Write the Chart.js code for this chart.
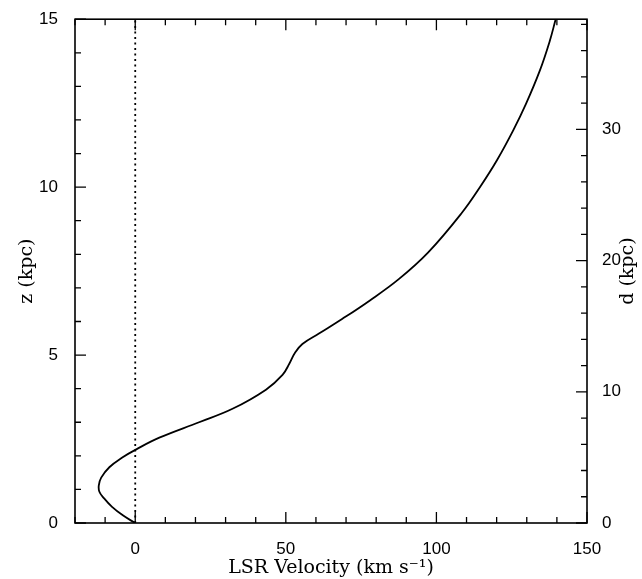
<!DOCTYPE html>
<html>
<head>
<meta charset="utf-8">
<script src="https://cdn.jsdelivr.net/npm/chart.js@4"></script>
<style>
  body { margin: 0; background: #fff; }
  canvas { display: block; }
</style>
</head>
<body>
<canvas id="chart" width="642" height="579"></canvas>
<script>
// LSR velocity (km/s) vs height z (kpc)
const velocity = [0, -4, -7.7, -10.5, -11.9, -12.1, -11.3, -8.6, -4.3, 0.5, 8, 21.2, 32.3, 43.4, 48.9, 51.2, 53, 55.5, 61, 68.8, 77.8, 87.5, 97.2, 108.4, 114.6, 120.1, 125.5, 129.7, 134.3, 137.6, 139.6];
const zHeight = [0, 0.22, 0.48, 0.75, 0.93, 1.12, 1.35, 1.66, 1.95, 2.2, 2.54, 3.0, 3.4, 3.97, 4.41, 4.75, 5.06, 5.33, 5.64, 6.08, 6.62, 7.26, 8.05, 9.23, 10.02, 10.8, 11.69, 12.47, 13.46, 14.34, 15];

// axis ranges
const vRange = [-20, 150];
const zRange = [0, 15];
const dMax = 38.4; // right axis, distance along line of sight at z = 15

const curve = velocity.map(function (v, i) {
  return { x: v, y: zHeight[i] };
});

const tickFont = { family: "Liberation Sans", size: 17 };
const titleFont = { family: "DejaVu Serif", size: 19 };

// inward ticks, frame and right-hand title
const framePlugin = {
  id: "frame",
  afterDraw: function (chart) {
    const ctx = chart.ctx;
    const a = chart.chartArea;
    const x = chart.scales.x;
    const y = chart.scales.y;
    const y2 = chart.scales.y2;
    ctx.save();
    ctx.strokeStyle = "#000";
    ctx.lineWidth = 1.6;
    ctx.strokeRect(a.left, a.top, a.right - a.left, a.bottom - a.top);

    ctx.lineWidth = 1.3;
    ctx.beginPath();
    for (let v = -20; v <= 150; v += 10) {
      const px = x.getPixelForValue(v);
      const len = v % 50 === 0 ? 11 : 6;
      ctx.moveTo(px, a.bottom);
      ctx.lineTo(px, a.bottom - len);
      ctx.moveTo(px, a.top);
      ctx.lineTo(px, a.top + len);
    }
    for (let z = 0; z <= 15; z += 1) {
      const py = y.getPixelForValue(z);
      const len = z % 5 === 0 ? 11 : 6;
      ctx.moveTo(a.left, py);
      ctx.lineTo(a.left + len, py);
    }
    for (let d = 0; d <= dMax; d += 2) {
      const py = y2.getPixelForValue(d);
      const len = d % 10 === 0 ? 11 : 6;
      ctx.moveTo(a.right, py);
      ctx.lineTo(a.right - len, py);
    }
    ctx.stroke();

    ctx.fillStyle = "#000";
    ctx.font = "19px 'DejaVu Serif'";
    ctx.textAlign = "center";
    ctx.textBaseline = "middle";
    ctx.translate(628, (a.top + a.bottom) / 2);
    ctx.rotate(-Math.PI / 2);
    ctx.fillText("d (kpc)", 0, 0);
    ctx.restore();
  },
};

new Chart(document.getElementById("chart"), {
  type: "scatter",
  data: {
    datasets: [
      {
        data: curve,
        showLine: true,
        borderColor: "#000",
        borderWidth: 1.8,
        pointRadius: 0,
        tension: 0.4,
      },
      {
        data: [
          { x: 0, y: zRange[0] },
          { x: 0, y: zRange[1] },
        ],
        showLine: true,
        borderColor: "#000",
        borderWidth: 1.8,
        borderDash: [2, 3.5],
        pointRadius: 0,
      },
    ],
  },
  options: {
    responsive: false,
    animation: false,
    layout: { padding: { top: 14, left: 0, right: 0, bottom: 0 } },
    plugins: {
      legend: { display: false },
      tooltip: { enabled: false },
    },
    scales: {
      x: {
        type: "linear",
        position: "bottom",
        min: vRange[0],
        max: vRange[1],
        grid: { display: false },
        border: { display: false },
        ticks: {
          stepSize: 50,
          color: "#000",
          font: tickFont,
          padding: 8,
          maxRotation: 0,
          callback: function (value) {
            return value % 50 === 0 ? value : "";
          },
        },
        title: {
          display: true,
          text: "LSR Velocity (km s\u207B\u00B9)",
          color: "#000",
          font: titleFont,
          padding: { top: 2, bottom: 0 },
        },
        afterFit: function (scale) {
          scale.height = 56;
        },
      },
      y: {
        type: "linear",
        position: "left",
        min: zRange[0],
        max: zRange[1],
        grid: { display: false },
        border: { display: false },
        ticks: {
          stepSize: 5,
          color: "#000",
          font: tickFont,
          padding: 9,
        },
        title: {
          display: true,
          text: "z (kpc)",
          color: "#000",
          font: titleFont,
          padding: { top: 16, bottom: 0 },
        },
        afterFit: function (scale) {
          scale.width = 75;
        },
      },
      y2: {
        type: "linear",
        position: "right",
        min: 0,
        max: dMax,
        grid: { display: false },
        border: { display: false },
        ticks: {
          stepSize: 10,
          color: "#000",
          font: tickFont,
          padding: 7,
          callback: function (value) {
            return value % 10 === 0 ? value : "";
          },
        },
        afterFit: function (scale) {
          scale.width = 55;
        },
      },
    },
  },
  plugins: [framePlugin],
});
</script>
</body>
</html>
